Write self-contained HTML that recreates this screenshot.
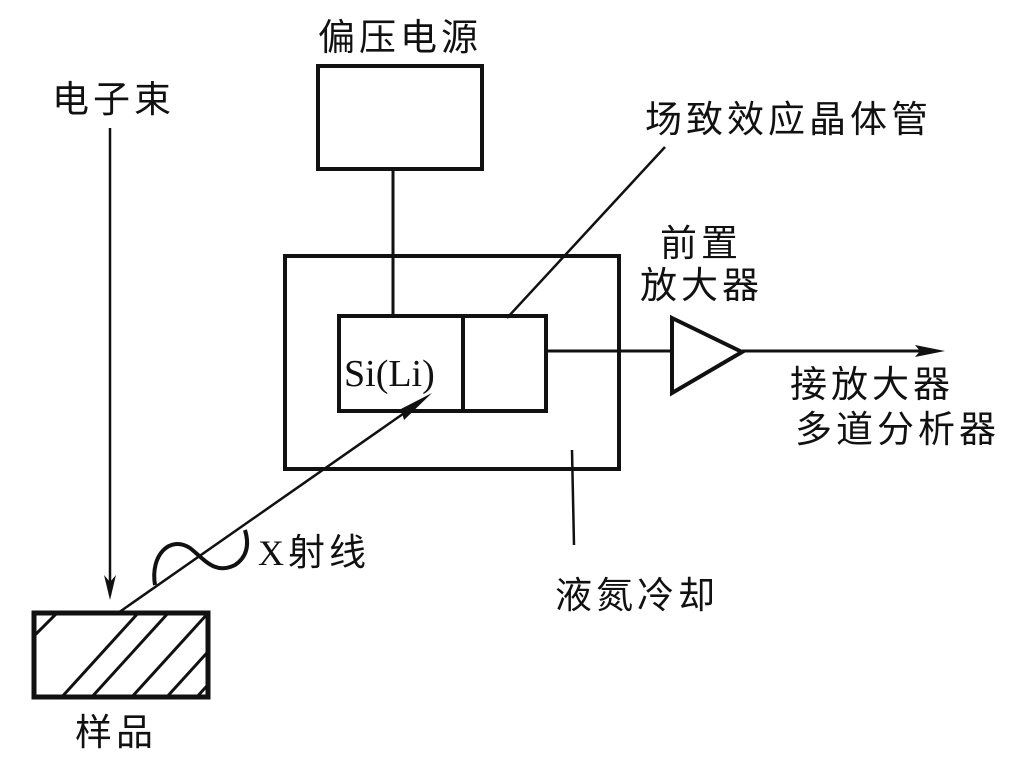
<!DOCTYPE html>
<html><head><meta charset="utf-8"><style>
html,body{margin:0;padding:0;background:#fff;}
svg text{font-family:"Liberation Sans","Noto Sans CJK SC",sans-serif;fill:#111;}
svg .serif{font-family:"Liberation Serif",serif;}
</style></head><body>
<svg width="1012" height="766" viewBox="0 0 1012 766" xmlns="http://www.w3.org/2000/svg">
<defs>
<clipPath id="c"><rect x="34" y="613" width="174" height="84"/></clipPath>
</defs>
<g stroke="#111" fill="none" stroke-width="3">
<rect x="318" y="66" width="164" height="103" stroke-width="4"/>
<line x1="393" y1="169" x2="393" y2="316"/>
<rect x="285" y="256" width="334" height="213" stroke-width="4"/>
<rect x="339" y="316" width="207" height="95" stroke-width="4"/>
<line x1="463" y1="316" x2="463" y2="411" stroke-width="4"/>
<line x1="507" y1="318" x2="665" y2="147" stroke-width="2.5"/>
<line x1="546" y1="351" x2="672" y2="351"/>
<polygon points="672,318 742,352 672,393" stroke-width="4"/>
<line x1="742" y1="351" x2="920" y2="351"/>
<line x1="572" y1="450" x2="574" y2="545" stroke-width="2.5"/>
<line x1="110" y1="128" x2="110" y2="595" stroke-width="2.5"/>
<line x1="118" y1="613" x2="420" y2="402" stroke-width="2.5"/>
<path d="M155,585 C150,555 170,535 190,548 C205,560 215,575 235,565 C250,555 248,540 245,530" stroke-width="4"/>
<rect x="34" y="613" width="174" height="84" stroke-width="5"/>
<g clip-path="url(#c)" stroke-width="3">
<line x1="20" y1="650" x2="70" y2="600"/>
<line x1="50" y1="710" x2="150" y2="600"/>
<line x1="80" y1="710" x2="180" y2="600"/>
<line x1="120" y1="710" x2="220" y2="600"/>
<line x1="155" y1="710" x2="255" y2="600"/>
<line x1="185" y1="710" x2="285" y2="600"/>
</g>
</g>
<g fill="#111">
<polygon points="110,600 104,575 110,582 116,575"/>
<polygon points="432,393 395,412 402,413 404,420"/>
<polygon points="945,351 915,345 920,351 915,357"/>
</g>
<g font-size="37" letter-spacing="4">
<text x="318" y="50">偏压电源</text>
<text x="52" y="112">电子束</text>
<text x="645" y="132">场致效应晶体管</text>
<text x="660" y="256">前置</text>
<text x="640" y="298">放大器</text>
<text x="790" y="397">接放大器</text>
<text x="795" y="442">多道分析器</text>
<text x="555" y="608">液氮冷却</text>
<text x="75" y="745">样品</text>
<text x="258" y="565"><tspan class="serif" font-size="36">X</tspan>射线</text>
</g>
<text class="serif" x="344" y="386" font-size="38">Si(Li)</text>
</svg>
</body></html>
